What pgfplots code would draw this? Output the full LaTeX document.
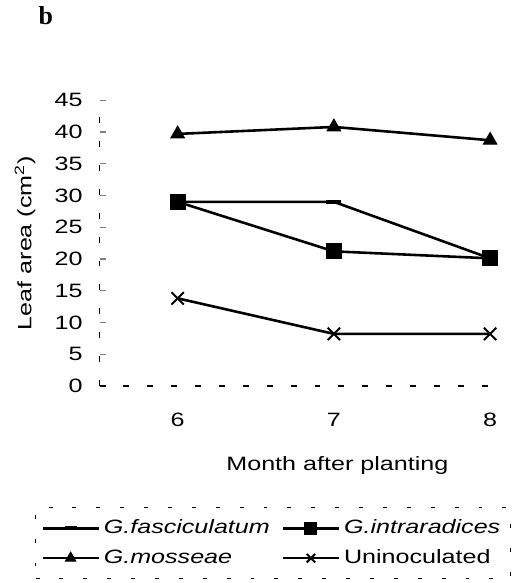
\documentclass[border=0pt]{standalone}
\usepackage{fontspec}
\setmainfont{Liberation Sans}[FakeStretch=1.3]
\newfontfamily\serifb{Liberation Serif}
\usepackage{pgfplots}
\pgfplotsset{compat=1.18}
\begin{document}
\begin{tikzpicture}
\begin{axis}[
  scale only axis,
  width=202.5pt, height=143.5pt,
  xmin=5.5, xmax=8.08, ymin=0, ymax=45,
  axis y line*=left, axis x line*=bottom,
  axis line style={line width=0.6pt, dash pattern=on 3pt off 9pt, -},
  xtick={6,7,8}, ytick={0,5,...,45},
  xtick style={draw=none},
  ytick style={line width=0.6pt},
  tick align=inside, major tick length=3pt,
  /pgf/number format/assume math mode=true,
  tick label style={font=\fontsize{9.7}{11}\selectfont},
  yticklabel style={xshift=-5pt},
  xticklabel style={yshift=-10pt},
  xlabel={Month after planting},
  ylabel={Leaf area (cm\textsuperscript{2})},
  label style={font=\fontsize{9.7}{11}\selectfont},
  xlabel style={at={(axis description cs:0.59,-0.279)}, anchor=center},
  ylabel style={at={(axis description cs:-0.185,0.5)}, anchor=center, rotate=0},
  legend columns=2,
  legend cell align=left,
  legend style={at={(axis description cs:-0.16,-0.425)}, anchor=north west,
    draw=black, line width=0.5pt, dash pattern=on 2pt off 10pt,
    font=\fontsize{9.7}{11}\selectfont, row sep=2.5pt, inner xsep=3pt, inner ysep=4pt,
    /tikz/every even column/.append style={column sep=4pt}},
  legend image code/.code={\draw[mark repeat=2,mark phase=2,#1,solid,mark size=3pt] plot coordinates {(0pt,0pt)(14pt,0pt)(28pt,0pt)};},
  every axis plot/.append style={line width=1.3pt, black},
  clip=false,
]
\addplot[mark=-, mark size=3.75pt, mark options={line width=2.2pt, solid}] coordinates {(6,29) (7,29) (8,20.1)};
\addlegendentry{\textit{G.fasciculatum}}
\addplot[mark=square*, mark size=3.8pt, mark options={solid, line width=0.5pt}] coordinates {(6,29) (7,21.2) (8,20.1)};
\addlegendentry{\textit{G.intraradices}}
\addplot[mark=triangle*, mark size=3.9pt, mark options={solid, line width=0.5pt}] coordinates {(6,39.7) (7,40.8) (8,38.7)};
\addlegendentry{\textit{G.mosseae}}
\addplot[mark=x, mark size=4.4pt, mark options={solid, line width=1pt}] coordinates {(6,13.8) (7,8.2) (8,8.2)};
\addlegendentry{Uninoculated}
\node[font=\serifb\bfseries\fontsize{13}{14}\selectfont, anchor=center] at (axis description cs:-0.133,1.296) {b};
\end{axis}
\path[use as bounding box] (-50pt,-99pt) rectangle (207pt,192.5pt);
\end{tikzpicture}
\end{document}
